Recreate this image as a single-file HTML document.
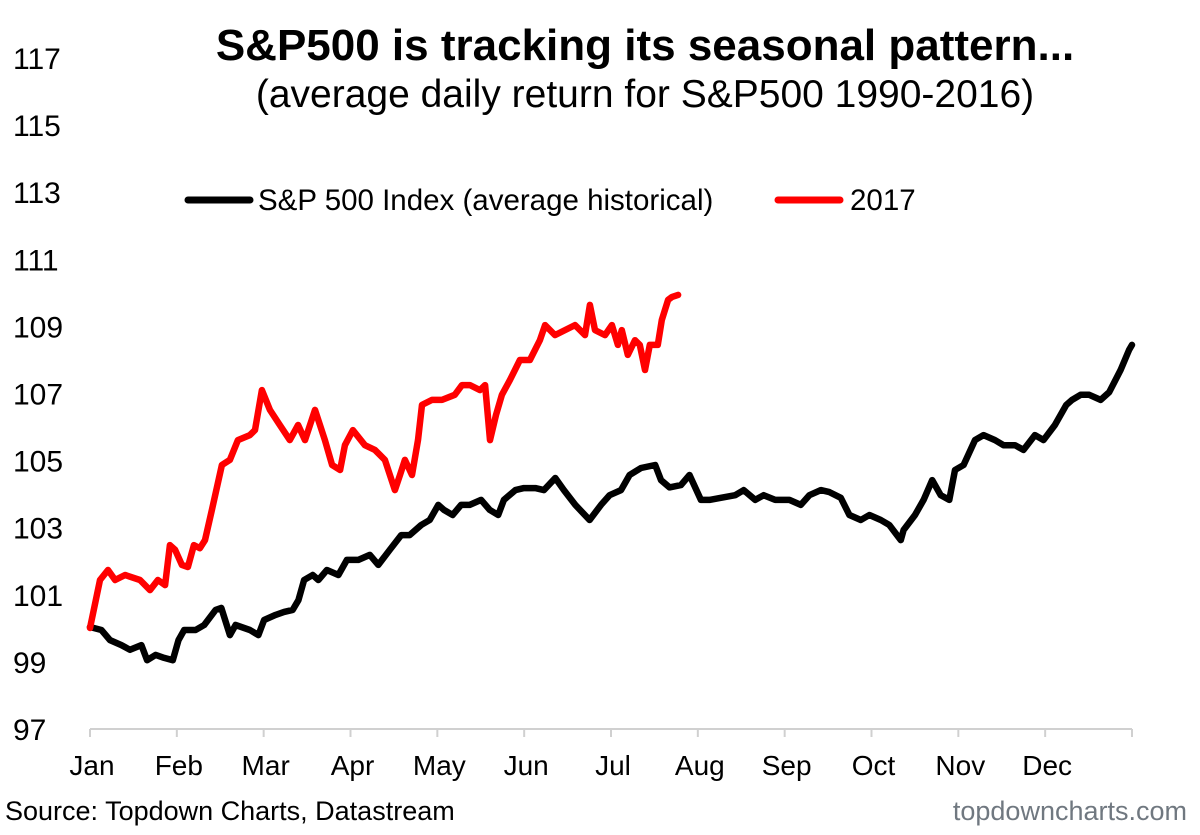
<!DOCTYPE html>
<html><head><meta charset="utf-8"><style>
html,body{margin:0;padding:0;background:#fff;}
svg{display:block;font-family:"Liberation Sans",Arial,sans-serif;}
</style></head><body>
<svg id="chart" width="1200" height="835" viewBox="0 0 1200 835">
<text x="645" y="60" text-anchor="middle" font-size="44" font-weight="bold">S&amp;P500 is tracking its seasonal pattern...</text>
<text x="645" y="107" text-anchor="middle" font-size="39">(average daily return for S&amp;P500 1990-2016)</text>
<g>
<line x1="188" y1="200" x2="250" y2="200" stroke="#000" stroke-width="7" stroke-linecap="round"/>
<text x="258" y="210" font-size="29.5">S&amp;P 500 Index (average historical)</text>
<line x1="778" y1="200" x2="840" y2="200" stroke="#f00" stroke-width="7" stroke-linecap="round"/>
<text x="850" y="210" font-size="29.5">2017</text>
</g>
<g id="yaxis"></g>
<g id="xaxis"></g>
<g id="series"></g>
<text x="5" y="820" font-size="27">Source: Topdown Charts, Datastream</text>
<text x="1187" y="820" text-anchor="end" font-size="27" fill="#707880">topdowncharts.com</text>
</svg>
<script>
const yTicks = [97,99,101,103,105,107,109,111,113,115,117];
const months = ["Jan","Feb","Mar","Apr","May","Jun","Jul","Aug","Sep","Oct","Nov","Dec"];
const histDays = [0,4,7,11,14,18,20,23,26,29,31,33,37,40,44,46,49,51,56,59,61,65,68,71,73,75,78,80,83,87,90,94,98,101,105,109,112,116,119,122,124,127,130,133,137,140,143,145,149,152,156,159,163,166,170,175,179,182,186,189,193,198,200,203,207,210,214,217,221,226,229,233,236,240,245,249,252,256,259,263,266,270,273,277,280,284,285,289,292,295,298,301,303,306,310,313,317,320,324,327,331,334,338,342,344,347,350,354,357,361,364,365];
const histValues = [100.04,99.95,99.65,99.50,99.36,99.50,99.05,99.21,99.12,99.05,99.65,99.95,99.95,100.10,100.55,100.61,99.80,100.10,99.95,99.80,100.25,100.40,100.49,100.55,100.84,101.44,101.59,101.44,101.74,101.59,102.04,102.04,102.19,101.89,102.34,102.78,102.78,103.08,103.23,103.68,103.53,103.38,103.68,103.68,103.83,103.53,103.38,103.83,104.12,104.18,104.18,104.12,104.48,104.12,103.68,103.23,103.68,103.97,104.12,104.57,104.78,104.87,104.42,104.20,104.27,104.57,103.83,103.83,103.89,103.97,104.12,103.83,103.97,103.83,103.83,103.68,103.97,104.12,104.06,103.89,103.38,103.23,103.38,103.23,103.08,102.63,102.93,103.38,103.83,104.42,103.97,103.83,104.72,104.87,105.61,105.76,105.61,105.46,105.46,105.32,105.76,105.61,106.06,106.66,106.81,106.96,106.96,106.81,107.04,107.70,108.30,108.45];
const y2017Days = [0,3.5,6.3,8.8,12.3,17.5,21,23.8,26.3,28,29.8,32.2,34.3,36.4,38.5,40.3,42.7,46.2,49,51.8,56,57.8,60.2,63,66.5,70,72.9,75.3,78.8,82.3,84.8,87.6,89.3,92.1,96.3,99.8,103.3,106.8,108.6,110.3,112.8,114.9,116.3,119.8,123.3,127.8,130.3,133.1,136.6,138.4,140.1,142.2,144.3,147.1,150.6,154.1,157.6,159.4,162.9,166.4,169.9,173.4,175.1,176.9,180.4,182.8,184.9,186.3,188.4,190.9,192.6,194.4,196.1,198.9,200.3,202.5,203.9,206];
const y2017Values = [100.01,101.44,101.74,101.44,101.59,101.44,101.14,101.44,101.29,102.48,102.34,101.89,101.83,102.48,102.39,102.63,103.53,104.87,105.02,105.61,105.76,105.91,107.10,106.51,106.06,105.61,106.06,105.61,106.51,105.61,104.87,104.72,105.46,105.91,105.46,105.32,105.02,104.12,104.57,105.02,104.57,105.61,106.66,106.81,106.81,106.96,107.25,107.25,107.10,107.25,105.61,106.36,106.96,107.40,108.00,108.00,108.59,109.04,108.74,108.89,109.04,108.74,109.64,108.89,108.74,109.04,108.45,108.89,108.15,108.59,108.45,107.70,108.45,108.45,109.19,109.79,109.88,109.94];

const NS = "http://www.w3.org/2000/svg";
const X0 = 90, X1 = 1132, Y0 = 729;
function xScale(d){ return X0 + d/365*(X1-X0); }
function yScale(v){ return Y0 - (v-97)*33.55; }
function mk(tag, attrs, parent){ const e=document.createElementNS(NS,tag); for(const k in attrs) e.setAttribute(k,attrs[k]); parent.appendChild(e); return e; }

const ya = document.getElementById('yaxis');
yTicks.forEach(t=>{
  const el = mk('text',{x:13,y:yScale(t)+11,'font-size':30},ya);
  
  
  el.textContent = t;
});
const xa = document.getElementById('xaxis');
const axl = mk('line',{x1:X0,y1:Y0,x2:X1,y2:Y0,stroke:'#d0d0d0','stroke-width':2},xa);


for(let i=0;i<=12;i++){
  const tx = X0 + i*(X1-X0)/12;
  const tk = mk('line',{x1:tx,y1:Y0,x2:tx,y2:Y0+8,stroke:'#d0d0d0','stroke-width':2},xa);
  
  
  if(i<12){
    const lb = mk('text',{x:tx+2,y:775,'text-anchor':'middle','font-size':28},xa);
    
    
    lb.textContent = months[i];
  }
}
function line(days, vals, color, name){
  const pts = days.map((d,i)=>xScale(d).toFixed(1)+','+yScale(vals[i]).toFixed(1)).join(' ');
  const p = mk('polyline',{points:pts,fill:'none',stroke:color,'stroke-width':6.5,'stroke-linejoin':'round','stroke-linecap':'round'},document.getElementById('series'));
  
  
}
line(histDays, histValues, '#000', 'historical-average-line');
line(y2017Days, y2017Values, '#ff0000', 'line-2017');
</script>
</body></html>
